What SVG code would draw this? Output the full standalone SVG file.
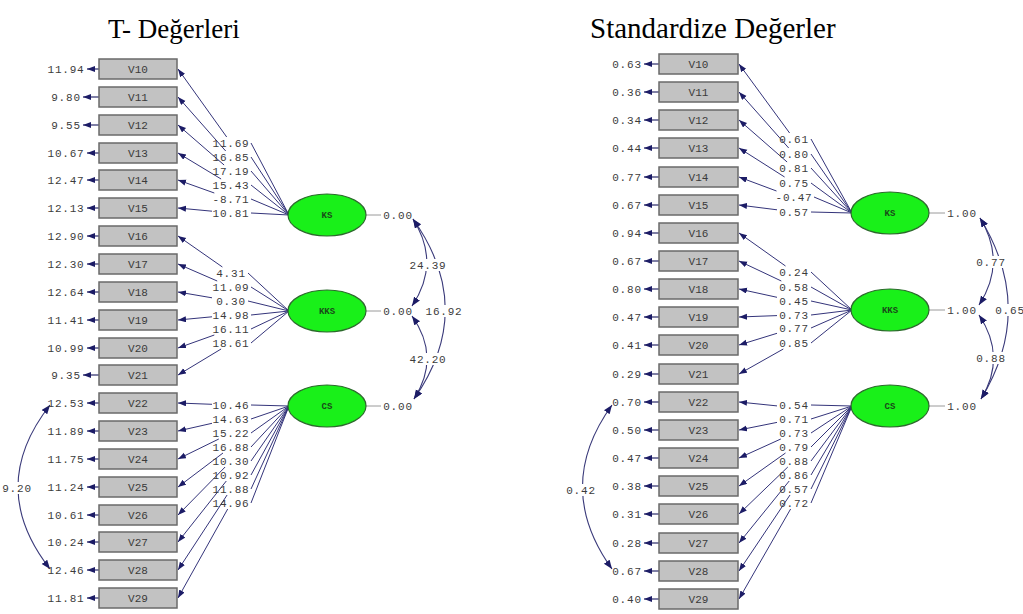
<svg xmlns="http://www.w3.org/2000/svg" width="1023" height="614" viewBox="0 0 1023 614">
<style>
.bg{fill:#ffffff}
.title{font-family:"Liberation Serif","Times New Roman",serif;font-size:27px;fill:#000}
.title2{font-family:"Liberation Serif","Times New Roman",serif;font-size:29px;fill:#000}
.box{fill:#c2c2c2;stroke:#6a6a6a;stroke-width:1.5}
.bt{font-family:"Liberation Mono","Courier New",monospace;font-size:11px;fill:#3a3a3a;text-anchor:middle}
.num{font-family:"Liberation Mono","Courier New",monospace;font-size:11px;letter-spacing:0.8px;fill:#3c3c3c;text-anchor:middle}
.ell{fill:#19f019;stroke:#2c6a2c;stroke-width:1.2}
.et{font-family:"Liberation Mono","Courier New",monospace;font-size:9px;font-weight:bold;fill:#1a4a1a;text-anchor:middle}
.ld{stroke:#34347a;stroke-width:1;fill:none}
.er{stroke:#2a2a6a;stroke-width:1.2;fill:none}
.vr{stroke:#9a9a9a;stroke-width:1;fill:none}
.cv{stroke:#3a3a7a;stroke-width:1.1;fill:none}
</style>
<defs>
<marker id="ah" markerUnits="userSpaceOnUse" markerWidth="9" markerHeight="7" refX="8" refY="3" orient="auto">
<path d="M0,0 L8,3 L0,6 z" fill="#1c1c66"/>
</marker>
<marker id="ah2" markerUnits="userSpaceOnUse" markerWidth="10" markerHeight="8" refX="9" refY="3.5" orient="auto-start-reverse">
<path d="M0,0 L9,3.5 L0,7 z" fill="#1c1c66"/>
</marker>
<mask id="cm" maskUnits="userSpaceOnUse" x="0" y="0" width="1023" height="614">
<rect x="0" y="0" width="1023" height="614" fill="#fff"/>
<rect x="408" y="259" width="40" height="12" fill="#000"/>
<rect x="424" y="305" width="40" height="12" fill="#000"/>
<rect x="408" y="353" width="40" height="12" fill="#000"/>
<rect x="974" y="256" width="34" height="12" fill="#000"/>
<rect x="993" y="304" width="34" height="12" fill="#000"/>
<rect x="974" y="352" width="34" height="12" fill="#000"/>
<rect x="0" y="482" width="34" height="12" fill="#000"/>
<rect x="564" y="484" width="34" height="12" fill="#000"/>
</mask>
</defs>
<rect class="bg" x="0" y="0" width="1023" height="614"/>

<text class="title" x="108" y="38">T- Değerleri</text>
<text class="title2" x="590" y="38">Standardize Değerler</text>

<!-- LEFT: connectors -->
<g id="L-connectors">
<g id="L-loadings">
<line class="ld" x1="226.7" y1="137" x2="178" y2="69" marker-end="url(#ah)"/>
<line class="ld" x1="225.7" y1="151" x2="178" y2="97" marker-end="url(#ah)"/>
<line class="ld" x1="224.1" y1="165" x2="178" y2="125" marker-end="url(#ah)"/>
<line class="ld" x1="221.1" y1="179" x2="178" y2="153" marker-end="url(#ah)"/>
<line class="ld" x1="214.3" y1="193" x2="178" y2="180" marker-end="url(#ah)"/>
<line class="ld" x1="212" y1="211.2" x2="178" y2="208" marker-end="url(#ah)"/>
<line class="ld" x1="222.4" y1="267" x2="178" y2="236" marker-end="url(#ah)"/>
<line class="ld" x1="217.2" y1="281" x2="178" y2="264" marker-end="url(#ah)"/>
<line class="ld" x1="212" y1="297.8" x2="178" y2="292" marker-end="url(#ah)"/>
<line class="ld" x1="212" y1="316.8" x2="178" y2="320" marker-end="url(#ah)"/>
<line class="ld" x1="214.3" y1="335" x2="178" y2="348" marker-end="url(#ah)"/>
<line class="ld" x1="221.1" y1="349" x2="178" y2="375" marker-end="url(#ah)"/>
<line class="ld" x1="212" y1="404.3" x2="178" y2="403" marker-end="url(#ah)"/>
<line class="ld" x1="212" y1="423.3" x2="178" y2="431" marker-end="url(#ah)"/>
<line class="ld" x1="218.8" y1="439" x2="178" y2="459" marker-end="url(#ah)"/>
<line class="ld" x1="223" y1="453" x2="178" y2="487" marker-end="url(#ah)"/>
<line class="ld" x1="225.1" y1="467" x2="178" y2="515" marker-end="url(#ah)"/>
<line class="ld" x1="226.3" y1="481" x2="178" y2="542" marker-end="url(#ah)"/>
<line class="ld" x1="227.1" y1="495" x2="178" y2="570" marker-end="url(#ah)"/>
<line class="ld" x1="227.7" y1="509" x2="178" y2="598" marker-end="url(#ah)"/>
<path class="ld" d="M251,143 L289,215 M251,157 L289,215 M251,171 L289,215 M251,185 L289,215 M251,199 L289,215 M251,213 L289,215"/>
<path class="ld" d="M248,273 L289,311 M251,287 L289,311 M248,301 L289,311 M251,315 L289,311 M251,329 L289,311 M251,343 L289,311"/>
<path class="ld" d="M251,405 L289,406 M251,419 L289,406 M251,433 L289,406 M251,447 L289,406 M251,461 L289,406 M251,475 L289,406 M251,489 L289,406 M251,503 L289,406"/>
</g>
<g id="L-errors">
<line class="er" x1="99" y1="69" x2="87" y2="69" marker-end="url(#ah)"/>
<line class="er" x1="99" y1="97" x2="83" y2="97" marker-end="url(#ah)"/>
<line class="er" x1="99" y1="125" x2="83" y2="125" marker-end="url(#ah)"/>
<line class="er" x1="99" y1="153" x2="87" y2="153" marker-end="url(#ah)"/>
<line class="er" x1="99" y1="180" x2="87" y2="180" marker-end="url(#ah)"/>
<line class="er" x1="99" y1="208" x2="87" y2="208" marker-end="url(#ah)"/>
<line class="er" x1="99" y1="236" x2="87" y2="236" marker-end="url(#ah)"/>
<line class="er" x1="99" y1="264" x2="87" y2="264" marker-end="url(#ah)"/>
<line class="er" x1="99" y1="292" x2="87" y2="292" marker-end="url(#ah)"/>
<line class="er" x1="99" y1="320" x2="87" y2="320" marker-end="url(#ah)"/>
<line class="er" x1="99" y1="348" x2="87" y2="348" marker-end="url(#ah)"/>
<line class="er" x1="99" y1="375" x2="83" y2="375" marker-end="url(#ah)"/>
<line class="er" x1="99" y1="403" x2="87" y2="403" marker-end="url(#ah)"/>
<line class="er" x1="99" y1="431" x2="87" y2="431" marker-end="url(#ah)"/>
<line class="er" x1="99" y1="459" x2="87" y2="459" marker-end="url(#ah)"/>
<line class="er" x1="99" y1="487" x2="87" y2="487" marker-end="url(#ah)"/>
<line class="er" x1="99" y1="515" x2="87" y2="515" marker-end="url(#ah)"/>
<line class="er" x1="99" y1="542" x2="87" y2="542" marker-end="url(#ah)"/>
<line class="er" x1="99" y1="570" x2="87" y2="570" marker-end="url(#ah)"/>
<line class="er" x1="99" y1="598" x2="87" y2="598" marker-end="url(#ah)"/>
</g>
<g id="L-variances">
<line class="vr" x1="366" y1="215" x2="381" y2="215"/>
<line class="vr" x1="366" y1="311" x2="381" y2="311"/>
<line class="vr" x1="366" y1="406" x2="381" y2="406"/>
</g>
<g id="L-covariances" mask="url(#cm)">
<path class="cv" d="M413,219 Q441,263 412,306" marker-start="url(#ah2)" marker-end="url(#ah2)"/>
<path class="cv" d="M412,316 Q441,357 414,399" marker-start="url(#ah2)" marker-end="url(#ah2)"/>
<path class="cv" d="M413,219 Q477,309 414,399" marker-start="url(#ah2)" marker-end="url(#ah2)"/>
<path class="cv" d="M50,405 Q-14,487 50,569" marker-start="url(#ah2)" marker-end="url(#ah2)"/>
</g>
</g>

<!-- LEFT: labels on connectors -->
<g id="L-connector-labels">
<text class="num" x="231" y="147">11.69</text>
<text class="num" x="231" y="161">16.85</text>
<text class="num" x="231" y="175">17.19</text>
<text class="num" x="231" y="189">15.43</text>
<text class="num" x="231" y="203">-8.71</text>
<text class="num" x="231" y="217">10.81</text>
<text class="num" x="231" y="277">4.31</text>
<text class="num" x="231" y="291">11.09</text>
<text class="num" x="231" y="305">0.30</text>
<text class="num" x="231" y="319">14.98</text>
<text class="num" x="231" y="333">16.11</text>
<text class="num" x="231" y="347">18.61</text>
<text class="num" x="231" y="409">10.46</text>
<text class="num" x="231" y="423">14.63</text>
<text class="num" x="231" y="437">15.22</text>
<text class="num" x="231" y="451">16.88</text>
<text class="num" x="231" y="465">10.30</text>
<text class="num" x="231" y="479">10.92</text>
<text class="num" x="231" y="493">11.88</text>
<text class="num" x="231" y="507">14.96</text>
<text class="num" x="66" y="73">11.94</text>
<text class="num" x="66" y="101">9.80</text>
<text class="num" x="66" y="129">9.55</text>
<text class="num" x="66" y="157">10.67</text>
<text class="num" x="66" y="184">12.47</text>
<text class="num" x="66" y="212">12.13</text>
<text class="num" x="66" y="240">12.90</text>
<text class="num" x="66" y="268">12.30</text>
<text class="num" x="66" y="296">12.64</text>
<text class="num" x="66" y="324">11.41</text>
<text class="num" x="66" y="352">10.99</text>
<text class="num" x="66" y="379">9.35</text>
<text class="num" x="66" y="407">12.53</text>
<text class="num" x="66" y="435">11.89</text>
<text class="num" x="66" y="463">11.75</text>
<text class="num" x="66" y="491">11.24</text>
<text class="num" x="66" y="519">10.61</text>
<text class="num" x="66" y="546">10.24</text>
<text class="num" x="66" y="574">12.46</text>
<text class="num" x="66" y="602">11.81</text>
<text class="num" x="398" y="219">0.00</text>
<text class="num" x="398" y="315">0.00</text>
<text class="num" x="398" y="410">0.00</text>
<text class="num" x="428" y="269">24.39</text>
<text class="num" x="444" y="315">16.92</text>
<text class="num" x="428" y="363">42.20</text>
<text class="num" x="17" y="492">9.20</text>
</g>

<!-- LEFT: nodes -->
<g id="L-V10"><rect class="box" x="99" y="59" width="78" height="20"/><text class="bt" x="138" y="73">V10</text></g>
<g id="L-V11"><rect class="box" x="99" y="87" width="78" height="20"/><text class="bt" x="138" y="101">V11</text></g>
<g id="L-V12"><rect class="box" x="99" y="115" width="78" height="20"/><text class="bt" x="138" y="129">V12</text></g>
<g id="L-V13"><rect class="box" x="99" y="143" width="78" height="20"/><text class="bt" x="138" y="157">V13</text></g>
<g id="L-V14"><rect class="box" x="99" y="170" width="78" height="20"/><text class="bt" x="138" y="184">V14</text></g>
<g id="L-V15"><rect class="box" x="99" y="198" width="78" height="20"/><text class="bt" x="138" y="212">V15</text></g>
<g id="L-V16"><rect class="box" x="99" y="226" width="78" height="20"/><text class="bt" x="138" y="240">V16</text></g>
<g id="L-V17"><rect class="box" x="99" y="254" width="78" height="20"/><text class="bt" x="138" y="268">V17</text></g>
<g id="L-V18"><rect class="box" x="99" y="282" width="78" height="20"/><text class="bt" x="138" y="296">V18</text></g>
<g id="L-V19"><rect class="box" x="99" y="310" width="78" height="20"/><text class="bt" x="138" y="324">V19</text></g>
<g id="L-V20"><rect class="box" x="99" y="338" width="78" height="20"/><text class="bt" x="138" y="352">V20</text></g>
<g id="L-V21"><rect class="box" x="99" y="365" width="78" height="20"/><text class="bt" x="138" y="379">V21</text></g>
<g id="L-V22"><rect class="box" x="99" y="393" width="78" height="20"/><text class="bt" x="138" y="407">V22</text></g>
<g id="L-V23"><rect class="box" x="99" y="421" width="78" height="20"/><text class="bt" x="138" y="435">V23</text></g>
<g id="L-V24"><rect class="box" x="99" y="449" width="78" height="20"/><text class="bt" x="138" y="463">V24</text></g>
<g id="L-V25"><rect class="box" x="99" y="477" width="78" height="20"/><text class="bt" x="138" y="491">V25</text></g>
<g id="L-V26"><rect class="box" x="99" y="505" width="78" height="20"/><text class="bt" x="138" y="519">V26</text></g>
<g id="L-V27"><rect class="box" x="99" y="532" width="78" height="20"/><text class="bt" x="138" y="546">V27</text></g>
<g id="L-V28"><rect class="box" x="99" y="560" width="78" height="20"/><text class="bt" x="138" y="574">V28</text></g>
<g id="L-V29"><rect class="box" x="99" y="588" width="78" height="20"/><text class="bt" x="138" y="602">V29</text></g>
<g id="L-KS"><ellipse class="ell" cx="327" cy="215" rx="39" ry="21"/><text class="et" x="327" y="218">KS</text></g>
<g id="L-KKS"><ellipse class="ell" cx="327" cy="311" rx="39" ry="21"/><text class="et" x="327" y="314">KKS</text></g>
<g id="L-CS"><ellipse class="ell" cx="327" cy="406" rx="39" ry="21"/><text class="et" x="327" y="409">CS</text></g>

<!-- RIGHT: connectors -->
<g id="R-connectors">
<g id="R-loadings">
<line class="ld" x1="789.6" y1="133" x2="739" y2="64" marker-end="url(#ah)"/>
<line class="ld" x1="788.7" y1="148" x2="739" y2="92" marker-end="url(#ah)"/>
<line class="ld" x1="787.1" y1="162" x2="739" y2="120" marker-end="url(#ah)"/>
<line class="ld" x1="784.6" y1="177" x2="739" y2="148" marker-end="url(#ah)"/>
<line class="ld" x1="776.5" y1="191" x2="739" y2="177" marker-end="url(#ah)"/>
<line class="ld" x1="777" y1="209.8" x2="739" y2="205" marker-end="url(#ah)"/>
<line class="ld" x1="785.5" y1="266" x2="739" y2="233" marker-end="url(#ah)"/>
<line class="ld" x1="781.3" y1="281" x2="739" y2="261" marker-end="url(#ah)"/>
<line class="ld" x1="777" y1="297.3" x2="739" y2="289" marker-end="url(#ah)"/>
<line class="ld" x1="777" y1="315.6" x2="739" y2="317" marker-end="url(#ah)"/>
<line class="ld" x1="777" y1="333.3" x2="739" y2="345" marker-end="url(#ah)"/>
<line class="ld" x1="783.3" y1="349" x2="739" y2="374" marker-end="url(#ah)"/>
<line class="ld" x1="777" y1="405.9" x2="739" y2="402" marker-end="url(#ah)"/>
<line class="ld" x1="777" y1="422.4" x2="739" y2="430" marker-end="url(#ah)"/>
<line class="ld" x1="780.8" y1="439" x2="739" y2="458" marker-end="url(#ah)"/>
<line class="ld" x1="785.5" y1="453" x2="739" y2="486" marker-end="url(#ah)"/>
<line class="ld" x1="787.8" y1="467" x2="739" y2="514" marker-end="url(#ah)"/>
<line class="ld" x1="789.2" y1="481" x2="739" y2="543" marker-end="url(#ah)"/>
<line class="ld" x1="790" y1="495" x2="739" y2="571" marker-end="url(#ah)"/>
<line class="ld" x1="790.6" y1="509" x2="739" y2="599" marker-end="url(#ah)"/>
<path class="ld" d="M811,139 L852,213 M811,154 L852,213 M811,168 L852,213 M811,183 L852,213 M814,197 L852,213 M811,212 L852,213"/>
<path class="ld" d="M811,272 L852,310 M811,287 L852,310 M811,301 L852,310 M811,315 L852,310 M811,328 L852,310 M811,343 L852,310"/>
<path class="ld" d="M811,405 L852,406 M811,419 L852,406 M811,433 L852,406 M811,447 L852,406 M811,461 L852,406 M811,475 L852,406 M811,489 L852,406 M811,503 L852,406"/>
</g>
<g id="R-errors">
<line class="er" x1="659" y1="64" x2="644" y2="64" marker-end="url(#ah)"/>
<line class="er" x1="659" y1="92" x2="644" y2="92" marker-end="url(#ah)"/>
<line class="er" x1="659" y1="120" x2="644" y2="120" marker-end="url(#ah)"/>
<line class="er" x1="659" y1="148" x2="644" y2="148" marker-end="url(#ah)"/>
<line class="er" x1="659" y1="177" x2="644" y2="177" marker-end="url(#ah)"/>
<line class="er" x1="659" y1="205" x2="644" y2="205" marker-end="url(#ah)"/>
<line class="er" x1="659" y1="233" x2="644" y2="233" marker-end="url(#ah)"/>
<line class="er" x1="659" y1="261" x2="644" y2="261" marker-end="url(#ah)"/>
<line class="er" x1="659" y1="289" x2="644" y2="289" marker-end="url(#ah)"/>
<line class="er" x1="659" y1="317" x2="644" y2="317" marker-end="url(#ah)"/>
<line class="er" x1="659" y1="345" x2="644" y2="345" marker-end="url(#ah)"/>
<line class="er" x1="659" y1="374" x2="644" y2="374" marker-end="url(#ah)"/>
<line class="er" x1="659" y1="402" x2="644" y2="402" marker-end="url(#ah)"/>
<line class="er" x1="659" y1="430" x2="644" y2="430" marker-end="url(#ah)"/>
<line class="er" x1="659" y1="458" x2="644" y2="458" marker-end="url(#ah)"/>
<line class="er" x1="659" y1="486" x2="644" y2="486" marker-end="url(#ah)"/>
<line class="er" x1="659" y1="514" x2="644" y2="514" marker-end="url(#ah)"/>
<line class="er" x1="659" y1="543" x2="644" y2="543" marker-end="url(#ah)"/>
<line class="er" x1="659" y1="571" x2="644" y2="571" marker-end="url(#ah)"/>
<line class="er" x1="659" y1="599" x2="644" y2="599" marker-end="url(#ah)"/>
</g>
<g id="R-variances">
<line class="vr" x1="929" y1="213" x2="945" y2="213"/>
<line class="vr" x1="929" y1="310" x2="945" y2="310"/>
<line class="vr" x1="929" y1="406" x2="945" y2="406"/>
</g>
<g id="R-covariances" mask="url(#cm)">
<path class="cv" d="M980,218 Q1007,262 979,305" marker-start="url(#ah2)" marker-end="url(#ah2)"/>
<path class="cv" d="M979,315 Q1007,357 981,399" marker-start="url(#ah2)" marker-end="url(#ah2)"/>
<path class="cv" d="M980,218 Q1036,309 981,399" marker-start="url(#ah2)" marker-end="url(#ah2)"/>
<path class="cv" d="M612,405 Q553,487 612,569" marker-start="url(#ah2)" marker-end="url(#ah2)"/>
</g>
</g>

<!-- RIGHT: labels on connectors -->
<g id="R-connector-labels">
<text class="num" x="794" y="143">0.61</text>
<text class="num" x="794" y="158">0.80</text>
<text class="num" x="794" y="172">0.81</text>
<text class="num" x="794" y="187">0.75</text>
<text class="num" x="794" y="201">-0.47</text>
<text class="num" x="794" y="216">0.57</text>
<text class="num" x="794" y="276">0.24</text>
<text class="num" x="794" y="291">0.58</text>
<text class="num" x="794" y="305">0.45</text>
<text class="num" x="794" y="319">0.73</text>
<text class="num" x="794" y="332">0.77</text>
<text class="num" x="794" y="347">0.85</text>
<text class="num" x="794" y="409">0.54</text>
<text class="num" x="794" y="423">0.71</text>
<text class="num" x="794" y="437">0.73</text>
<text class="num" x="794" y="451">0.79</text>
<text class="num" x="794" y="465">0.88</text>
<text class="num" x="794" y="479">0.86</text>
<text class="num" x="794" y="493">0.57</text>
<text class="num" x="794" y="507">0.72</text>
<text class="num" x="627" y="68">0.63</text>
<text class="num" x="627" y="96">0.36</text>
<text class="num" x="627" y="124">0.34</text>
<text class="num" x="627" y="152">0.44</text>
<text class="num" x="627" y="181">0.77</text>
<text class="num" x="627" y="209">0.67</text>
<text class="num" x="627" y="237">0.94</text>
<text class="num" x="627" y="265">0.67</text>
<text class="num" x="627" y="293">0.80</text>
<text class="num" x="627" y="321">0.47</text>
<text class="num" x="627" y="349">0.41</text>
<text class="num" x="627" y="378">0.29</text>
<text class="num" x="627" y="406">0.70</text>
<text class="num" x="627" y="434">0.50</text>
<text class="num" x="627" y="462">0.47</text>
<text class="num" x="627" y="490">0.38</text>
<text class="num" x="627" y="518">0.31</text>
<text class="num" x="627" y="547">0.28</text>
<text class="num" x="627" y="575">0.67</text>
<text class="num" x="627" y="603">0.40</text>
<text class="num" x="962" y="217">1.00</text>
<text class="num" x="962" y="314">1.00</text>
<text class="num" x="962" y="410">1.00</text>
<text class="num" x="991" y="266">0.77</text>
<text class="num" x="1010" y="314">0.65</text>
<text class="num" x="991" y="362">0.88</text>
<text class="num" x="581" y="494">0.42</text>
</g>

<!-- RIGHT: nodes -->
<g id="R-V10"><rect class="box" x="659" y="54" width="79" height="20"/><text class="bt" x="698.5" y="68">V10</text></g>
<g id="R-V11"><rect class="box" x="659" y="82" width="79" height="20"/><text class="bt" x="698.5" y="96">V11</text></g>
<g id="R-V12"><rect class="box" x="659" y="110" width="79" height="20"/><text class="bt" x="698.5" y="124">V12</text></g>
<g id="R-V13"><rect class="box" x="659" y="138" width="79" height="20"/><text class="bt" x="698.5" y="152">V13</text></g>
<g id="R-V14"><rect class="box" x="659" y="167" width="79" height="20"/><text class="bt" x="698.5" y="181">V14</text></g>
<g id="R-V15"><rect class="box" x="659" y="195" width="79" height="20"/><text class="bt" x="698.5" y="209">V15</text></g>
<g id="R-V16"><rect class="box" x="659" y="223" width="79" height="20"/><text class="bt" x="698.5" y="237">V16</text></g>
<g id="R-V17"><rect class="box" x="659" y="251" width="79" height="20"/><text class="bt" x="698.5" y="265">V17</text></g>
<g id="R-V18"><rect class="box" x="659" y="279" width="79" height="20"/><text class="bt" x="698.5" y="293">V18</text></g>
<g id="R-V19"><rect class="box" x="659" y="307" width="79" height="20"/><text class="bt" x="698.5" y="321">V19</text></g>
<g id="R-V20"><rect class="box" x="659" y="335" width="79" height="20"/><text class="bt" x="698.5" y="349">V20</text></g>
<g id="R-V21"><rect class="box" x="659" y="364" width="79" height="20"/><text class="bt" x="698.5" y="378">V21</text></g>
<g id="R-V22"><rect class="box" x="659" y="392" width="79" height="20"/><text class="bt" x="698.5" y="406">V22</text></g>
<g id="R-V23"><rect class="box" x="659" y="420" width="79" height="20"/><text class="bt" x="698.5" y="434">V23</text></g>
<g id="R-V24"><rect class="box" x="659" y="448" width="79" height="20"/><text class="bt" x="698.5" y="462">V24</text></g>
<g id="R-V25"><rect class="box" x="659" y="476" width="79" height="20"/><text class="bt" x="698.5" y="490">V25</text></g>
<g id="R-V26"><rect class="box" x="659" y="504" width="79" height="20"/><text class="bt" x="698.5" y="518">V26</text></g>
<g id="R-V27"><rect class="box" x="659" y="533" width="79" height="20"/><text class="bt" x="698.5" y="547">V27</text></g>
<g id="R-V28"><rect class="box" x="659" y="561" width="79" height="20"/><text class="bt" x="698.5" y="575">V28</text></g>
<g id="R-V29"><rect class="box" x="659" y="589" width="79" height="20"/><text class="bt" x="698.5" y="603">V29</text></g>
<g id="R-KS"><ellipse class="ell" cx="890" cy="213" rx="39" ry="21"/><text class="et" x="890" y="216">KS</text></g>
<g id="R-KKS"><ellipse class="ell" cx="890" cy="310" rx="39" ry="21"/><text class="et" x="890" y="313">KKS</text></g>
<g id="R-CS"><ellipse class="ell" cx="890" cy="406" rx="39" ry="21"/><text class="et" x="890" y="409">CS</text></g>
</svg>
